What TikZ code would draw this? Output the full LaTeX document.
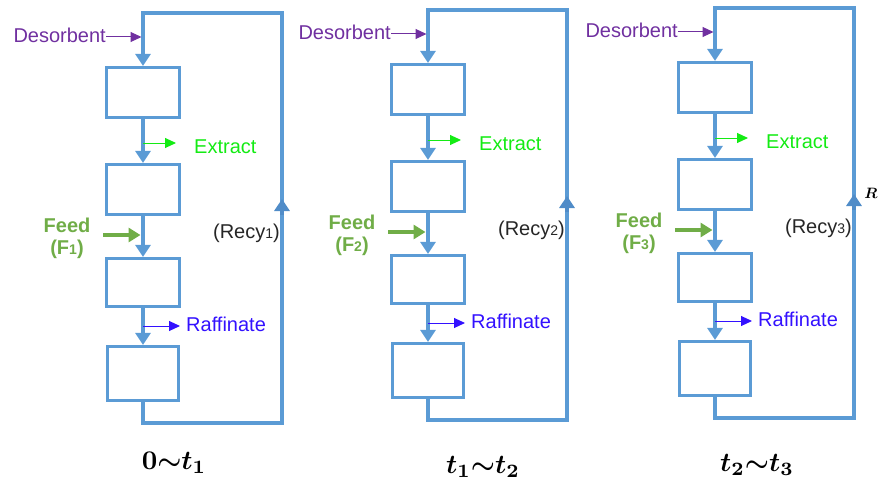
\documentclass[tikz,border=0pt]{standalone}
\usepackage[no-math]{fontspec}
\setmainfont{Liberation Sans}
\usepackage{bm}
\usetikzlibrary{arrows.meta}

\definecolor{loopblue}{RGB}{91,155,213}
\definecolor{tipblue}{RGB}{80,140,200}
\definecolor{desorbpurple}{RGB}{112,48,160}
\definecolor{extractgreen}{RGB}{20,235,20}
\definecolor{feedgreen}{RGB}{112,173,71}
\definecolor{raffblue}{RGB}{51,17,255}
\definecolor{recygray}{RGB}{38,38,38}

\newcommand\smalldigit[1]{{\fontsize{14}{14}\selectfont #1}}
\newcommand\period[2]{$\bm{#1}{\bm{\sim}}\bm{#2}$}

\tikzset{
  column/.style={draw=loopblue, line width=3.2pt, fill=white, inner sep=0pt,
    minimum width=73pt, minimum height=50pt},
  pipe/.style={draw=loopblue, line width=3.2pt},
  flowtip/.style={draw=loopblue, line width=3.2pt,
    -{Triangle[width=15pt,length=12pt]}},
  thinflow/.style={line width=1pt, -{Triangle[width=10pt,length=11pt]}},
  feedflow/.style={draw=feedgreen, line width=4.5pt,
    -{Triangle[width=14pt,length=12pt]}},
  lbl/.style={inner sep=0pt, font=\fontsize{20}{24}\selectfont},
  periodlbl/.style={inner sep=0pt, font=\fontsize{10}{12}\selectfont,
    scale=2.7, transform shape}
}

% One four-column loop: #1 name prefix, #2/#3 shift, #4 index of F and Recy
\newcommand\drawpanel[4]{%
\begin{scope}[shift={(#2,#3)}]
  % columns
  \node[column] (#1b1) at (143,92.5) {};
  \node[column] (#1b2) at (143,189.5) {};
  \node[column, minimum height=48pt] (#1b3) at (143,282.5) {};
  \node[column, minimum width=71pt, minimum height=54pt] (#1b4) at (143,373.5) {};
  % recycle loop
  \coordinate (#1bl) at (143,423);
  \coordinate (#1br) at (282,423);
  \coordinate (#1tr) at (282,13);
  \coordinate (#1tl) at (143,13);
  \draw[pipe, flowtip] (#1b4) -- (#1bl) -- (#1br) -- (#1tr) -- (#1tl) -- (#1b1);
  \draw[flowtip] (#1b1) -- (#1b2);
  \draw[flowtip] (#1b2) -- (#1b3);
  \draw[flowtip] (#1b3) -- (#1b4);
  \coordinate (#1rl) at (282,215);
  \coordinate (#1rh) at (282,199);
  \draw[flowtip, draw=tipblue] (#1rl) -- (#1rh);
  % desorbent inlet
  \node[lbl, text=desorbpurple, anchor=east] (#1des) at (106,35) {Desorbent};
  \coordinate (#1din) at (141.5,37);
  \draw[thinflow, desorbpurple] (#1des.east |- #1din) -- (#1din);
  % extract outlet
  \coordinate (#1exs) at (143,143);
  \coordinate (#1exe) at (176,143);
  \draw[thinflow, extractgreen] (#1exs) -- (#1exe);
  \node[lbl, text=extractgreen, anchor=west] (#1ext) at (194,147) {Extract};
  % feed inlet
  \node[lbl, text=feedgreen] (#1feed) at (67,225) {\bfseries Feed};
  \node[lbl, text=feedgreen] (#1fidx) at (67,249) {\bfseries (F\smalldigit{#4})};
  \coordinate (#1fs) at (103,235);
  \coordinate (#1fe) at (140.5,235);
  \draw[feedflow] (#1fs) -- (#1fe);
  % raffinate outlet
  \coordinate (#1rfs) at (143,326);
  \coordinate (#1rfe) at (180,326);
  \draw[thinflow, raffblue] (#1rfs) -- (#1rfe);
  \node[lbl, text=raffblue, anchor=west] (#1raf) at (186,324) {Raffinate};
  % recycle label
  \node[lbl, text=recygray, anchor=east] (#1recy) at (280,233) {(Recy\smalldigit{#4})};
\end{scope}}

\begin{document}
\begin{tikzpicture}[x=1pt,y=-1pt]
  \useasboundingbox (0,0) rectangle (880,484);
  % time intervals under each loop
  \node[periodlbl] (pa) at (174,463) {\period{0}{t_1}};
  \node[periodlbl] (pb) at (483,467) {\period{t_1}{t_2}};
  \node[periodlbl] (pc) at (757,465) {\period{t_2}{t_3}};
  \node[inner sep=0pt, font=\fontsize{10}{12}\selectfont, scale=1.5, transform shape]
    (rlabel) at (871,193) {$\bm{R}$};
  \drawpanel{a}{0}{0}{1}
  \drawpanel{b}{285}{-3}{2}
  \drawpanel{c}{572}{-5}{3}
\end{tikzpicture}
\end{document}
